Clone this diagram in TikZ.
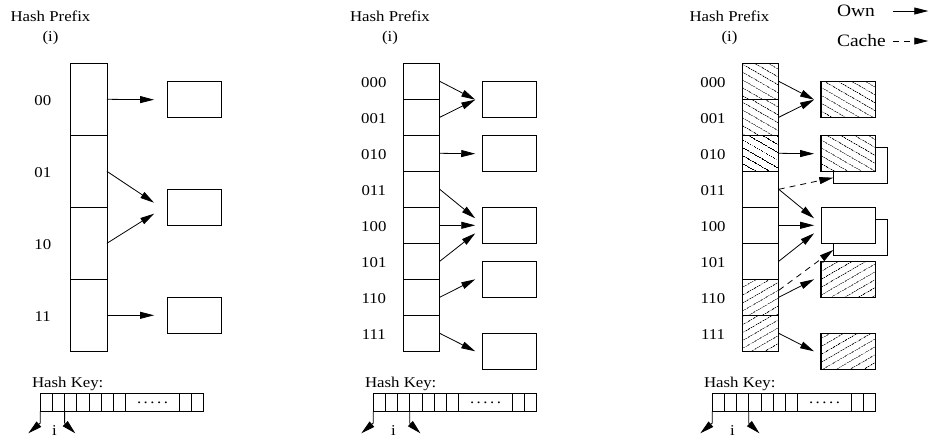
\documentclass[tikz,border=0pt]{standalone}
\usepackage{fontspec}
\setmainfont{Liberation Serif}[FakeStretch=1.12]
\usetikzlibrary{positioning,calc,arrows.meta,patterns.meta}
\tikzset{>={Triangle[length=14pt,width=7pt]}}
\tikzset{
  cell/.style={draw,minimum width=36.5pt,inner sep=0pt,outer sep=0pt},
  bucket/.style={draw,fill=white,minimum width=54.5pt,minimum height=36pt,inner sep=0pt,outer sep=0pt},
  hashkey/.style={draw,minimum width=163.4pt,minimum height=18pt,inner sep=0pt,outer sep=0pt},
  hatchl/.style={line width=1.3pt,preaction={fill=white},pattern={Lines[angle=-30,distance=6.5pt,line width=0.7pt]}},
  hatchr/.style={line width=1.3pt,preaction={fill=white},pattern={Lines[angle=30,distance=6.5pt,line width=0.7pt]}},
  nohatch/.style={},
  cache/.style={->,dash pattern=on 6pt off 5pt},
}
\newcommand*{\legendtext}[1]{\fontsize{17.4}{20}\selectfont #1}

\begin{document}
\begin{tikzpicture}[x=1pt,y=-1pt,line width=0.8pt,font=\fontsize{15}{18}\selectfont]
\useasboundingbox (0,0) rectangle (930,440);
% Titles over the three tables
\foreach \n/\x in {a/50.5,b/390,c/729.5} {
  \node[anchor=base] (hp\n) at (\x,21) {Hash Prefix};
  \node[anchor=base] (hi\n) at (\x,41) {(i)};
}

% Legend
\node[anchor=base west] (own) at (833.3,16.7) {\legendtext{Own}};
\node[anchor=base west] (cache) at (833.3,46.7) {\legendtext{Cache}};
\coordinate (owna) at (893.3,11);
\coordinate (ownb) at (928.3,11);
\coordinate (cachea) at (893.3,41);
\coordinate (cacheb) at (928.3,41);
\draw[->] (owna) -- (ownb);
\draw[cache] (cachea) -- (cacheb);

% Table for i = 2
\foreach \k/\t in {1/00,2/01,3/10,4/11} {
  \node[cell,minimum height=72pt] (ac\k) at (88.65,27.3+72*\k) {};
  \node (al\k) at (42.8,28.3+72*\k) {\t};
}
\node[bucket] (ab1) at (194.3,99.7) {};
\node[bucket] (ab2) at (194.3,207.7) {};
\node[bucket] (ab3) at (194.3,315.3) {};
\foreach \c/\b/\d in {1/1/0,2/2/-5,3/2/6,4/3/0}
  \draw[->] (ac\c.east) -- ($(ab\b.west)+(-13,\d)$);

% Table for i = 3
\foreach \k/\t in {1/000,2/001,3/010,4/011,5/100,6/101,7/110,8/111} {
  \node[cell,minimum height=36pt] (bc\k) at (421.5,45.3+36*\k) {};
  \node (bl\k) at (373.8,46.3+36*\k) {\t};
}
\node[bucket] (bb1) at (509.5,99.7) {};
\node[bucket] (bb2) at (509.5,153.7) {};
\node[bucket] (bb3) at (509.5,225.3) {};
\node[bucket] (bb4) at (509.5,279.3) {};
\node[bucket] (bb5) at (509.5,351.3) {};
\foreach \c/\b/\d in {1/1/0,2/1/0,3/2/0,4/3/-7,5/3/0,6/3/8,7/4/0,8/5/0}
  \draw[->] (bc\c.east) -- ($(bb\b.west)+(-7,\d)$);

% Table for i = 3 with own and cached buckets
\foreach \k/\t/\s in {1/000/hatchl,2/001/hatchl,3/010/hatchl,4/011/nohatch,5/100/nohatch,6/101/nohatch,7/110/hatchr,8/111/hatchr} {
  \node[cell,\s,minimum height=36pt] (cc\k) at (760.5,45.3+36*\k) {};
  \node (cl\k) at (713,46.3+36*\k) {\t};
}
\node[bucket,hatchl] (cb1) at (848.3,99.7) {};
\node[bucket] (cb2back) at (860.6,165.3) {};
\node[bucket,hatchl] (cb2) at (848.3,153.7) {};
\node[bucket] (cb3back) at (860.6,236.9) {};
\node[bucket] (cb3) at (848.3,225.3) {};
\node[bucket,hatchr] (cb4) at (848.3,279.3) {};
\node[bucket,hatchr] (cb5) at (848.3,351.3) {};
\foreach \c/\b/\d in {1/1/0,2/1/0,3/2/0,4/3/-7,5/3/0,6/3/8,7/4/0,8/5/0}
  \draw[->] (cc\c.east) -- ($(cb\b.west)+(-7,\d)$);
\draw[cache] (cc4.east) -- ($(cb2back.south west)+(0,-5.6)$);
\draw[cache] ($(cc7.east)+(0,-7)$) -- ($(cb3back.south west)+(0,-5)$);

% Hash keys
\foreach \n/\x/\i in {a/40.3/2,b/373.3/3,c/712.3/3} {
  \node[hashkey] (key\n) at (\x+81.7,402.3) {};
  \foreach \j in {12.15,24.3,36.45,48.6,60.75,72.9,85.05,139.05,151.2}
    \draw ($(key\n.north west)+(\j,0)$) -- ($(key\n.south west)+(\j,0)$);
  \node (dots\n) at (\x+112.2,403.3) {.\,.\,.\,.\,.};
  \node[anchor=base west] (hk\n) at (\x-12,387.3) {Hash Key:};
  \draw[->] (key\n.south west) -- ++(0,11.7) -- ++(-12,10.3);
  \draw[->] ($(key\n.south west)+(12.15*\i,0)$) -- ++(0,11.7) -- ++(10.7,10.3);
  \node[anchor=base] (i\n) at (\x+6.075*\i+2,435) {i};
}
\end{tikzpicture}
\end{document}
